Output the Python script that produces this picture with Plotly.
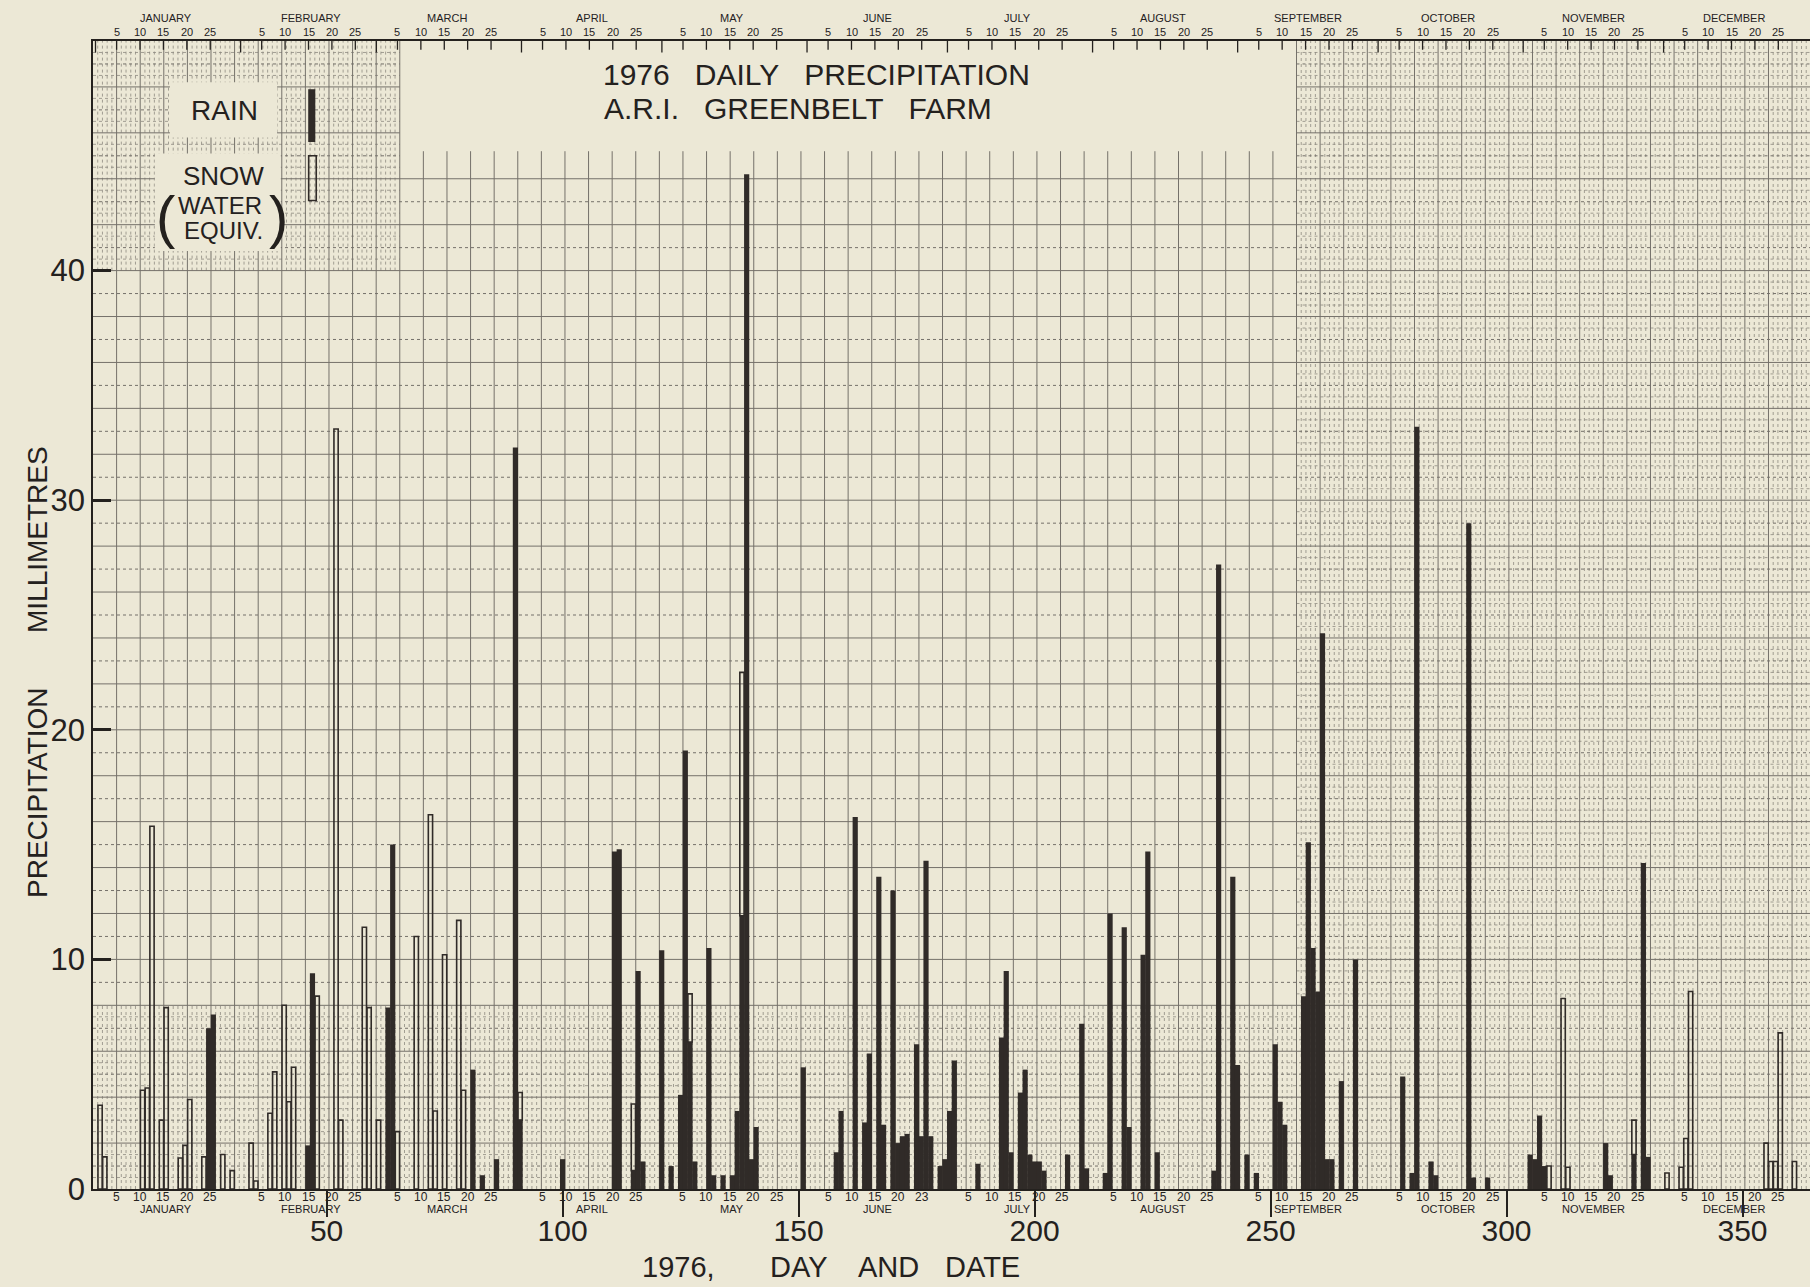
import plotly.graph_objects as go

# ---------------- data (1976, day of year -> millimetres) ----------------
rain = [(25, 7.0), (26, 7.6), (46, 1.9), (47, 9.4), (63, 7.9), (64, 15.0), (81, 5.2), (83, 0.6),
        (86, 1.3), (90, 32.3), (91, 3.0), (100, 1.3), (111, 14.7), (112, 14.8), (115, 0.8),
        (116, 9.5), (117, 1.2), (121, 10.4), (123, 1.0), (125, 4.1), (126, 19.1), (127, 6.4),
        (128, 1.2), (131, 10.5), (132, 0.6), (134, 0.6), (136, 0.6), (137, 3.4), (138, 11.9),
        (139, 44.2), (140, 1.3), (141, 2.7), (151, 5.3), (158, 1.6), (159, 3.4), (162, 16.2),
        (164, 2.9), (165, 5.9), (167, 13.6), (168, 2.8), (170, 13.0), (171, 2.0), (172, 2.3),
        (173, 2.4), (175, 6.3), (176, 2.3), (177, 14.3), (178, 2.3), (180, 1.0), (181, 1.3),
        (182, 3.4), (183, 5.6), (188, 1.1), (193, 6.6), (194, 9.5), (195, 1.6), (197, 4.2),
        (198, 5.2), (199, 1.5), (200, 1.2), (201, 1.2), (202, 0.8), (207, 1.5), (210, 7.2),
        (211, 0.9), (215, 0.7), (216, 12.0), (219, 11.4), (220, 2.7), (223, 10.2), (224, 14.7),
        (226, 1.6), (238, 0.8), (239, 27.2), (242, 13.6), (243, 5.4), (245, 1.5), (247, 0.7),
        (251, 6.3), (252, 3.8), (253, 2.8), (257, 8.4), (258, 15.1), (259, 10.5), (260, 8.6),
        (261, 24.2), (262, 1.3), (263, 1.3), (265, 4.7), (268, 10.0), (278, 4.9), (280, 0.7),
        (281, 33.2), (284, 1.2), (285, 0.6), (292, 29.0), (293, 0.5), (296, 0.5), (305, 1.5),
        (306, 1.3), (307, 3.2), (308, 1.0), (321, 2.0), (322, 0.6), (327, 1.5), (329, 14.2),
        (330, 1.4)]

# snow (water equivalent); drawn on top of any rain of the same day
snow = [(2, 3.65), (3, 1.4), (11, 4.3), (12, 4.4), (13, 15.8), (15, 3.0), (16, 7.9), (19, 1.35),
        (20, 1.9), (21, 3.9), (24, 1.4), (28, 1.5), (30, 0.8), (34, 2.0), (35, 0.35), (38, 3.3),
        (39, 5.1), (41, 8.0), (42, 3.8), (43, 5.3), (48, 8.4), (52, 33.1), (53, 3.0), (58, 11.4),
        (59, 7.9), (61, 3.0), (65, 2.5), (69, 11.0), (72, 16.3), (73, 3.4), (75, 10.2), (78, 11.7),
        (79, 4.3), (91, 1.2), (115, 2.9), (127, 2.1), (138, 10.6), (309, 1.0), (312, 8.3),
        (313, 0.95), (327, 1.5), (334, 0.7), (337, 0.95), (338, 2.2), (339, 8.6), (355, 2.0),
        (356, 1.2), (357, 1.2), (358, 6.8), (361, 1.2)]

day_ticks = [50, 100, 150, 200, 250, 300, 350]
y_ticks = [0, 10, 20, 30, 40]
months = ["JANUARY", "FEBRUARY", "MARCH", "APRIL", "MAY", "JUNE", "JULY",
          "AUGUST", "SEPTEMBER", "OCTOBER", "NOVEMBER", "DECEMBER"]
month_start = [1, 32, 61, 92, 122, 153, 183, 214, 245, 275, 306, 336]
month_marks = [5, 10, 15, 20, 25]
bottom_mark_text = {"JUNE": ["5", "10", "15", "20", "23"]}

# ---------------- style ----------------
BG = "#ece8d6"
INK = "#24211e"
BAR = "#302b28"
GRID = "#75716a"
FINE = "#8e8a80"
SANS = "Liberation Sans, Arial, sans-serif"
NARROW = "Liberation Sans Narrow, Liberation Sans, Arial, sans-serif"

X0, X1 = 0.5, 364.3
YTOP = 50
PL, PT, PB = 93, 41, 98
W, H = 1810, 1287
PW, PH = W - PL, H - PT - PB


def pos(doy):
    # the printed month strips are very slightly compressed against the day scale
    return 0.54 + 0.9918 * doy


def px_x(px):
    return (px - PL) / PW


def px_y(py):
    return (H - PB - py) / PH


rain_map = dict(rain)
rd, rv = zip(*rain)
sd, sv = zip(*snow)
s_base = [rain_map.get(d, 0) for d in sd]

fig = go.Figure()
fig.add_trace(go.Bar(x=list(rd), y=list(rv), width=1.1, marker=dict(color=BAR, line=dict(width=0)),
                     hoverinfo="x+y", name="RAIN"))
fig.add_trace(go.Bar(x=list(sd), y=list(sv), base=s_base, width=0.9,
                     marker=dict(color="rgba(0,0,0,0)", line=dict(color=BAR, width=1.6)),
                     hoverinfo="x+y", name="SNOW"))

# ---------------- chart-paper grid ----------------
BL, BR, BTOP = 65.5, 255.5, 44.0   # blank title area: x in (BL, BR), y above BTOP


def hline(y, parts):
    return "".join(f"M{a:.2f},{y:.2f}L{b:.2f},{y:.2f}" for a, b in parts)


def vline(x, y0, y1):
    return f"M{x:.2f},{y0:.2f}L{x:.2f},{y1:.2f}"


major_v = []
x = X0 + 5
while x < X1:
    top = 45.2 if BL < x < BR else YTOP
    major_v.append(vline(x, 0, top))
    x += 5

even_h, odd_h = [], []
for k in range(1, 50):
    y = float(k)
    parts = [(X0, X1)] if y <= BTOP else [(X0, BL), (BR, X1)]
    (even_h if k % 2 == 0 else odd_h).append(hline(y, parts))

fine = []
for d in range(1, 365):
    x = d + 0.5
    if x >= X1:
        break
    if (x - X0) % 5 == 0:
        continue
    if x <= BL:
        fine.append(vline(x, 0, 8))
        fine.append(vline(x, 40, YTOP))
    elif x >= BR:
        fine.append(vline(x, 0, YTOP))
    else:
        fine.append(vline(x, 0, 8))
for k in range(0, 100):
    y = k * 0.5
    if y == int(y):
        continue
    if y <= 8:
        fine.append(hline(y, [(X0, X1)]))
    else:
        parts = [(BR, X1)]
        if y >= 40:
            parts = [(X0, BL)] + parts
        fine.append(hline(y, parts))

shapes = [
    dict(type="path", path="".join(fine), xref="x", yref="y", layer="below",
         line=dict(color=FINE, width=0.8, dash="dot")),
    dict(type="path", path="".join(odd_h), xref="x", yref="y", layer="below",
         line=dict(color=GRID, width=1, dash="dot")),
    dict(type="path", path="".join(even_h), xref="x", yref="y", layer="below",
         line=dict(color=GRID, width=1)),
    dict(type="path", path="".join(major_v), xref="x", yref="y", layer="below",
         line=dict(color=GRID, width=1)),
    # blank paste-up areas behind legend words
    dict(type="rect", xref="x", yref="y", x0=16.8, x1=39.5, y0=45.8, y1=48.2, layer="below",
         fillcolor=BG, line=dict(width=0)),
    dict(type="rect", xref="x", yref="y", x0=13.6, x1=40.3, y0=40.85, y1=45.1, layer="below",
         fillcolor=BG, line=dict(width=0)),
    # legend swatches
    dict(type="rect", xref="x", yref="y", x0=46.1, x1=47.6, y0=45.6, y1=47.9,
         fillcolor=BAR, line=dict(width=0)),
    dict(type="rect", xref="x", yref="y", x0=46.2, x1=47.8, y0=43.05, y1=45.0,
         fillcolor="rgba(0,0,0,0)", line=dict(color=BAR, width=1.6)),
]

# top date strip tick marks
top_ticks = []
for ms in month_start:
    top_ticks.append(vline(pos(ms) - 0.5, YTOP, YTOP - 0.5))
    for d in month_marks:
        top_ticks.append(vline(pos(ms + d - 1), YTOP, YTOP - 0.38))
shapes.append(dict(type="path", path="".join(top_ticks), xref="x", yref="y",
                   line=dict(color=INK, width=1.3)))

ann = []
# month strips, top and bottom
for name, ms in zip(months, month_start):
    ann.append(dict(x=pos(ms + 14) + 0.5, y=px_y(18), xref="x", yref="paper", text=name,
                    font=dict(family=SANS, size=11, color=INK)))
    ann.append(dict(x=pos(ms + 14) + 0.5, y=px_y(1209), xref="x", yref="paper", text=name,
                    font=dict(family=SANS, size=11, color=INK)))
    btxt = bottom_mark_text.get(name, [str(d) for d in month_marks])
    for d, bt in zip(month_marks, btxt):
        ann.append(dict(x=pos(ms + d - 1), y=px_y(32), xref="x", yref="paper", text=str(d),
                        font=dict(family=SANS, size=11, color=INK)))
        ann.append(dict(x=pos(ms + d - 1), y=px_y(1197), xref="x", yref="paper", text=bt,
                        font=dict(family=SANS, size=12, color=INK)))

NB = "\u00a0"
ann += [
    dict(x=px_x(816), y=px_y(75), xref="paper", yref="paper",
         text=f"1976{NB*3}DAILY{NB*3}PRECIPITATION", font=dict(family=SANS, size=30, color=INK)),
    dict(x=px_x(798), y=px_y(108), xref="paper", yref="paper",
         text=f"A.R.I.{NB*3}GREENBELT{NB*3}FARM", font=dict(family=SANS, size=30, color=INK)),
    dict(x=px_x(37), y=px_y(672), xref="paper", yref="paper", textangle=-90,
         text=f"PRECIPITATION{NB*7}MILLIMETRES", font=dict(family=SANS, size=28, color=INK)),
    dict(x=px_x(678), y=px_y(1267), xref="paper", yref="paper",
         text="1976,", font=dict(family=SANS, size=29, color=INK)),
    dict(x=px_x(798), y=px_y(1267), xref="paper", yref="paper",
         text="DAY", font=dict(family=SANS, size=29, color=INK)),
    dict(x=px_x(888), y=px_y(1267), xref="paper", yref="paper",
         text="AND", font=dict(family=SANS, size=29, color=INK)),
    dict(x=px_x(982), y=px_y(1267), xref="paper", yref="paper",
         text="DATE", font=dict(family=SANS, size=29, color=INK)),
    # legend words
    dict(x=px_x(224), y=px_y(110), xref="paper", yref="paper",
         text="RAIN", font=dict(family=SANS, size=28, color=INK)),
    dict(x=px_x(223), y=px_y(176), xref="paper", yref="paper",
         text="SNOW", font=dict(family=SANS, size=26, color=INK)),
    dict(x=px_x(220), y=px_y(206), xref="paper", yref="paper",
         text="WATER", font=dict(family=SANS, size=24, color=INK)),
    dict(x=px_x(223), y=px_y(230), xref="paper", yref="paper",
         text="EQUIV.", font=dict(family=SANS, size=24, color=INK)),
    dict(x=px_x(165), y=px_y(216), xref="paper", yref="paper",
         text="(", font=dict(family=NARROW, size=58, color=INK)),
    dict(x=px_x(278), y=px_y(216), xref="paper", yref="paper",
         text=")", font=dict(family=NARROW, size=58, color=INK)),
]
for a in ann:
    a.update(showarrow=False, xanchor="center", yanchor="middle")

fig.update_layout(
    width=W, height=H,
    margin=dict(l=PL, r=0, t=PT, b=PB, pad=0),
    paper_bgcolor=BG, plot_bgcolor=BG,
    showlegend=False, barmode="overlay",
    shapes=shapes, annotations=ann,
    xaxis=dict(range=[X0, X1], showgrid=False, zeroline=False, showline=True, mirror=True,
               linecolor=INK, linewidth=2, tickmode="array", tickvals=day_ticks,
               ticktext=[str(v) for v in day_ticks], ticks="outside", ticklen=26, tickwidth=1.5,
               tickcolor=INK, ticklabelstandoff=-12,
               tickfont=dict(family=NARROW, size=30, color=INK)),
    yaxis=dict(range=[0, YTOP], showgrid=False, zeroline=False, showline=True,
               linecolor=INK, linewidth=1.5, tickmode="array", tickvals=y_ticks,
               ticktext=[str(v) for v in y_ticks], ticks="inside", ticklen=18, tickwidth=2.5,
               tickcolor=INK, ticklabelstandoff=0,
               tickfont=dict(family=NARROW, size=31, color=INK)),
)

fig.write_html("out.html")
